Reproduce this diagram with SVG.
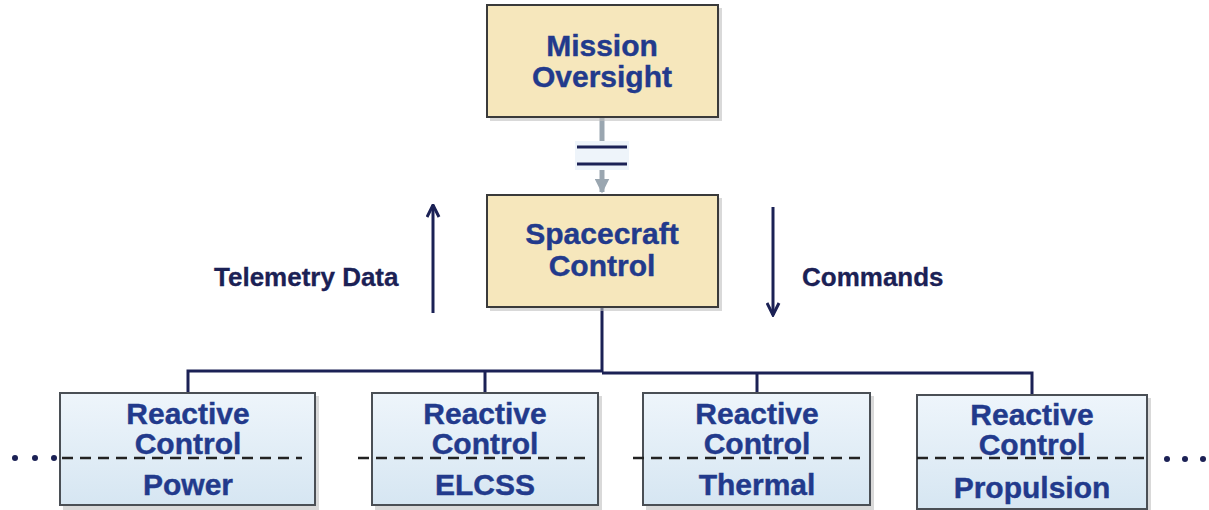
<svg xmlns="http://www.w3.org/2000/svg" width="1209" height="510" viewBox="0 0 1209 510">
<defs>
<linearGradient id="blueFill" x1="0" y1="0" x2="0" y2="1">
<stop offset="0" stop-color="#EEF5FB"/>
<stop offset="1" stop-color="#D6E6F2"/>
</linearGradient>
<marker id="arrNavy" viewBox="0 0 10 10" refX="9" refY="5" markerWidth="5" markerHeight="5" orient="auto" markerUnits="strokeWidth">
<path d="M1,1 L9,5 L1,9" fill="none" stroke="#1B2155" stroke-width="2"/>
</marker>
<marker id="arrGray" viewBox="0 0 10 10" refX="9" refY="5" markerWidth="3" markerHeight="3" orient="auto" markerUnits="strokeWidth">
<path d="M0,0 L10,5 L0,10 Z" fill="#9AA6B0"/>
</marker>
</defs>
<style>
.tan{fill:#F6E7BC;stroke:#3A3A3A;stroke-width:2}
.blue{fill:url(#blueFill);stroke:#4A4F55;stroke-width:2}
.shadow{fill:#BFBFBF;opacity:0.6}
.nt{font-family:"Liberation Sans",Arial,sans-serif;font-weight:bold;font-size:30px;fill:#223A8C;text-anchor:middle;stroke:#223A8C;stroke-width:0.4}
.lbl{font-family:"Liberation Sans",Arial,sans-serif;font-weight:bold;font-size:26px;fill:#1B2155;stroke:#1B2155;stroke-width:0.3}
.wire{fill:none;stroke:#1B2155;stroke-width:3}
.dash{stroke:#222;stroke-width:2.5;stroke-dasharray:11,7}
.dot{fill:#1B2155}
</style>
<rect width="1209" height="510" fill="#FFFFFF"/>

<g id="connectors">
<line x1="602" y1="118" x2="602" y2="192" stroke="#9AA6B0" stroke-width="5" marker-end="url(#arrGray)"/>
<rect x="575" y="141" width="54" height="29" fill="#EEF4FA"/>
<line x1="577" y1="147" x2="627" y2="147" stroke="#1B2155" stroke-width="3"/>
<line x1="577" y1="164" x2="627" y2="164" stroke="#1B2155" stroke-width="3"/>
<polyline class="wire" points="602,307 602,372"/>
<polyline class="wire" points="188,394 188,371 602,371"/>
<polyline class="wire" points="602,373 1032,373 1032,396"/>
<line class="wire" x1="485" y1="371" x2="485" y2="394"/>
<line class="wire" x1="757" y1="373" x2="757" y2="394"/>
<line x1="433" y1="313" x2="433" y2="205" stroke="#1B2155" stroke-width="3" marker-end="url(#arrNavy)"/>
<line x1="773" y1="207" x2="773" y2="315" stroke="#1B2155" stroke-width="3" marker-end="url(#arrNavy)"/>
</g>

<g id="mission-oversight">
<rect class="shadow" x="490" y="8" width="232" height="113"/>
<rect class="tan" x="487" y="5" width="231" height="112"/>
<text class="nt" x="602" y="56">Mission</text>
<text class="nt" x="602" y="87">Oversight</text>
</g>

<g id="spacecraft-control">
<rect class="shadow" x="490" y="198" width="232" height="113"/>
<rect class="tan" x="487" y="195" width="231" height="112"/>
<text class="nt" x="602" y="244">Spacecraft</text>
<text class="nt" x="602" y="276">Control</text>
</g>

<g id="label-telemetry">
<text class="lbl" x="214" y="286">Telemetry Data</text>
</g>
<g id="label-commands">
<text class="lbl" x="802" y="286">Commands</text>
</g>

<g id="rc-power">
<rect class="shadow" x="63" y="396" width="256" height="114"/>
<rect class="blue" x="60" y="393" width="255" height="112"/>
<text class="nt" x="188" y="424">Reactive</text>
<text class="nt" x="188" y="454">Control</text>
<line class="dash" x1="62" y1="458" x2="302" y2="458"/>
<text class="nt" x="188" y="495">Power</text>
<circle class="dot" cx="15" cy="458" r="3"/>
<circle class="dot" cx="35" cy="458" r="3"/>
<circle class="dot" cx="54" cy="458" r="3"/>
</g>

<g id="rc-elcss">
<rect class="shadow" x="375" y="396" width="227" height="114"/>
<rect class="blue" x="372" y="393" width="226" height="112"/>
<text class="nt" x="485" y="424">Reactive</text>
<text class="nt" x="485" y="454">Control</text>
<line class="dash" x1="358" y1="458" x2="586" y2="458"/>
<text class="nt" x="485" y="495">ELCSS</text>
</g>

<g id="rc-thermal">
<rect class="shadow" x="646" y="396" width="228" height="114"/>
<rect class="blue" x="643" y="393" width="227" height="112"/>
<text class="nt" x="757" y="424">Reactive</text>
<text class="nt" x="757" y="454">Control</text>
<line class="dash" x1="633" y1="458" x2="861" y2="458"/>
<text class="nt" x="757" y="495">Thermal</text>
</g>

<g id="rc-propulsion">
<rect class="shadow" x="920" y="398" width="231" height="114"/>
<rect class="blue" x="917" y="395" width="230" height="114"/>
<text class="nt" x="1032" y="425">Reactive</text>
<text class="nt" x="1032" y="455">Control</text>
<line class="dash" x1="917" y1="458" x2="1146" y2="458"/>
<text class="nt" x="1032" y="498">Propulsion</text>
<circle class="dot" cx="1167" cy="459" r="3"/>
<circle class="dot" cx="1185" cy="459" r="3"/>
<circle class="dot" cx="1203" cy="459" r="3"/>
</g>
</svg>
